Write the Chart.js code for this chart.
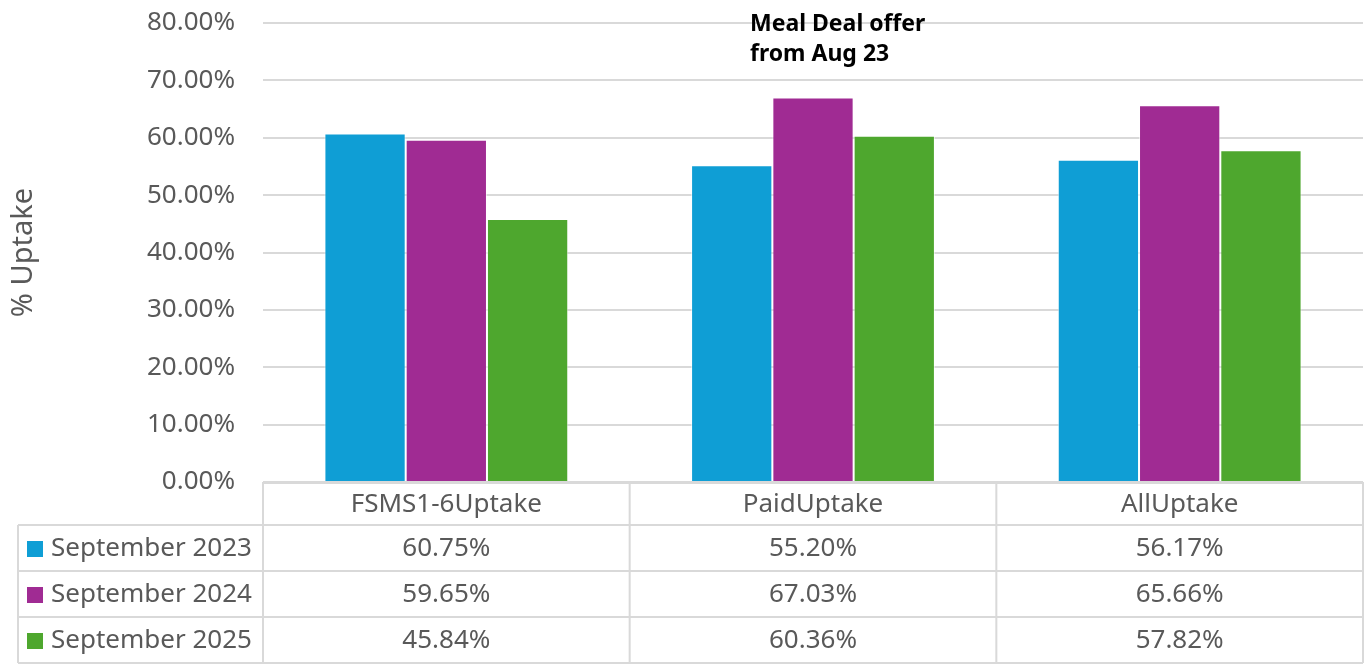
<!DOCTYPE html>
<html>
<head>
<meta charset="utf-8">
<script src="https://cdn.jsdelivr.net/npm/chart.js@4.4.1/dist/chart.umd.min.js"></script>
<style>
    html, body { margin: 0; padding: 0; background: #fff; }
</style>
</head>
<body>
<canvas id="myChart" width="1367" height="664"></canvas>
<script>
// chart data
const categories = ['FSMS1-6Uptake', 'PaidUptake', 'AllUptake'];
const seriesNames = ['September 2023', 'September 2024', 'September 2025'];
const sep2023 = [60.75, 55.20, 56.17];
const sep2024 = [59.65, 67.03, 65.66];
const sep2025 = [45.84, 60.36, 57.82];
const yTicks = [0, 10, 20, 30, 40, 50, 60, 70, 80];
const noteLines = ['Meal Deal offer', 'from Aug 23'];

const seriesValues = [sep2023, sep2024, sep2025];
const seriesColors = ['#0F9ED5', '#A02B93', '#4EA72E'];
const textColor = '#595959';
const lineColor = '#d9d9d9';
const fontFamily = '"Noto Sans", "Open Sans", sans-serif';

// data table under the plot, lined up with the x scale
const dataTable = {
    id: 'dataTable',
    afterDraw(chart) {
        const ctx = chart.ctx;
        const area = chart.chartArea;
        const x = chart.scales.x;
        const colW = area.width / categories.length;
        const tableLeft = 18;
        const headerH = 43;
        const rowH = 46;
        const top = area.bottom;

        ctx.save();
        ctx.strokeStyle = lineColor;
        ctx.lineWidth = 2;

        // header row
        ctx.beginPath();
        ctx.moveTo(area.left, top + 1);
        ctx.lineTo(area.right, top + 1);
        for (let i = 0; i <= categories.length; i++) {
            const cx = area.left + i * colW;
            ctx.moveTo(cx, top);
            ctx.lineTo(cx, top + headerH);
        }
        // data rows
        for (let r = 0; r <= seriesNames.length; r++) {
            const ry = top + headerH + r * rowH;
            ctx.moveTo(tableLeft, ry);
            ctx.lineTo(area.right, ry);
        }
        const bottom = top + headerH + seriesNames.length * rowH;
        ctx.moveTo(tableLeft, top + headerH);
        ctx.lineTo(tableLeft, bottom);
        for (let i = 0; i <= categories.length; i++) {
            const cx = area.left + i * colW;
            ctx.moveTo(cx, top + headerH);
            ctx.lineTo(cx, bottom);
        }
        ctx.stroke();

        ctx.font = '26px ' + fontFamily;
        ctx.fillStyle = textColor;
        ctx.textBaseline = 'middle';
        ctx.textAlign = 'center';
        categories.forEach((c, i) => {
            ctx.fillText(c, x.getPixelForValue(i), top + headerH / 2 + 1);
        });
        seriesNames.forEach((name, r) => {
            const my = top + headerH + r * rowH + rowH / 2 + 1;
            ctx.fillStyle = seriesColors[r];
            ctx.fillRect(27, my - 8, 16, 16);
            ctx.fillStyle = textColor;
            ctx.textAlign = 'left';
            ctx.fillText(name, 51, my);
            ctx.textAlign = 'center';
            seriesValues[r].forEach((v, i) => {
                ctx.fillText(v.toFixed(2) + '%', x.getPixelForValue(i), my);
            });
        });

        // annotation above PaidUptake
        ctx.font = 'bold 23px ' + fontFamily;
        ctx.fillStyle = '#000';
        ctx.textAlign = 'left';
        ctx.textBaseline = 'alphabetic';
        const nx = x.getPixelForValue(1) - 63;
        const ny = chart.scales.y.getPixelForValue(80);
        noteLines.forEach((line, k) => {
            ctx.fillText(line, nx, ny + 8 + k * 30);
        });
        ctx.restore();
    }
};

const ctx = document.getElementById('myChart').getContext('2d');
const myChart = new Chart(ctx, {
    type: 'bar',
    data: {
        labels: categories,
        datasets: seriesNames.map((name, i) => ({
            label: name,
            data: seriesValues[i],
            backgroundColor: seriesColors[i],
            borderColor: 'rgba(255,255,255,0.6)',
            borderWidth: 1,
            categoryPercentage: 0.665,
            barPercentage: 1
        }))
    },
    options: {
        responsive: false,
        animation: false,
        layout: {
            padding: { top: 23, bottom: 182, left: 0, right: 4 }
        },
        plugins: {
            legend: { display: false },
            tooltip: { enabled: false }
        },
        scales: {
            x: { display: false },
            y: {
                min: 0,
                max: 80,
                afterBuildTicks: axis => {
                    axis.ticks = yTicks.map(v => ({ value: v }));
                },
                afterFit: axis => {
                    axis.width = 263;
                    axis.paddingTop = 0;
                    axis.paddingBottom = 0;
                },
                ticks: {
                    color: textColor,
                    font: { family: fontFamily, size: 26 },
                    padding: 28,
                    callback: v => v.toFixed(2) + '%'
                },
                grid: { color: lineColor, lineWidth: 2, drawTicks: false },
                border: { display: false },
                title: {
                    display: true,
                    text: '% Uptake',
                    color: textColor,
                    font: { family: fontFamily, size: 29 },
                    padding: { top: 6, bottom: 0 }
                }
            }
        }
    },
    plugins: [dataTable]
});
</script>
</body>
</html>
